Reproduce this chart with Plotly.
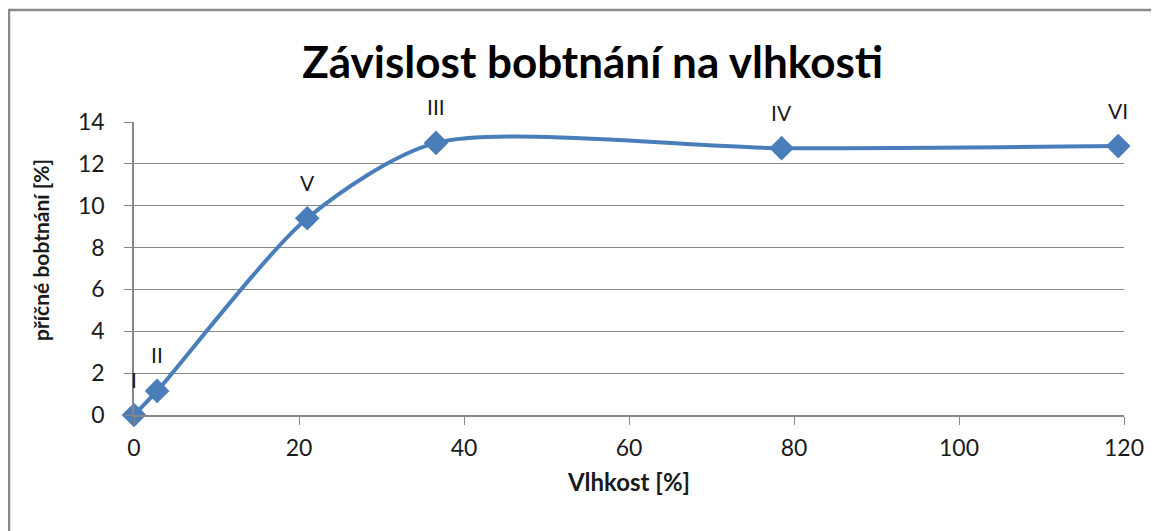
import plotly.graph_objects as go

# swelling vs. moisture
vlhkost = [0, 2.8, 21.0, 36.6, 78.5, 119.3]
bobtnani = [0, 1.15, 9.4, 13.0, 12.75, 12.85]
labels = ["I", "II", "V", "III", "IV", "VI"]

LINE_COLOR = "#4a7ebb"
GRID_COLOR = "#878787"
FONT = "Lato"

fig = go.Figure()
fig.add_trace(go.Scatter(
    x=vlhkost, y=bobtnani,
    mode="lines+markers",
    line=dict(color=LINE_COLOR, width=4, shape="spline", smoothing=0.75),
    marker=dict(symbol="diamond", size=19, color=LINE_COLOR),
    cliponaxis=False,
    showlegend=False,
))

for xv, yv, lab in zip(vlhkost, bobtnani, labels):
    fig.add_annotation(x=xv, y=yv, text=lab, showarrow=False, yshift=36,
                       font=dict(family=FONT, size=21, color="#1a1a1a"))

# y title sits a bit above the plot centre, so place it by hand
fig.add_annotation(xref="paper", yref="paper", x=-0.095, y=0.563,
                   text="<b>příčné bobtnání [%]</b>", textangle=-90,
                   showarrow=False, xanchor="center", yanchor="middle",
                   font=dict(family=FONT, size=21, color="#1a1a1a"))

# outer chart frame
fig.add_shape(type="rect", xref="paper", yref="paper",
              x0=-0.1263, x1=1.05, y0=-0.45, y1=1.382,
              line=dict(color="#8a8a8a", width=2.5), layer="below")

# page body has an 8px margin, so the figure is 8px smaller than the window
fig.update_layout(
    width=1151, height=523,
    margin=dict(l=126, r=35, t=114, b=116),
    paper_bgcolor="white", plot_bgcolor="white",
    font=dict(family=FONT, color="#1a1a1a"),
    title=dict(text="<b>Závislost bobtnání na vlhkosti</b>",
               x=0.508, xanchor="center", y=0.895, yanchor="middle",
               font=dict(family=FONT, size=44, color="black")),
    xaxis=dict(
        range=[0, 120], tickvals=[0, 20, 40, 60, 80, 100, 120],
        showgrid=False, zeroline=False,
        showline=True, linecolor=GRID_COLOR, linewidth=1.5,
        ticks="outside", ticklen=8, tickcolor=GRID_COLOR,
        tickfont=dict(size=23), ticklabelstandoff=4,
        title=dict(text="<b>Vlhkost [%]</b>", font=dict(size=24), standoff=14),
    ),
    yaxis=dict(
        range=[0, 14], tickvals=[0, 2, 4, 6, 8, 10, 12, 14],
        showgrid=True, gridcolor=GRID_COLOR, gridwidth=1.2, zeroline=False,
        showline=True, linecolor=GRID_COLOR, linewidth=1.5,
        ticks="outside", ticklen=8, tickcolor=GRID_COLOR,
        tickfont=dict(size=23), ticklabelstandoff=15,
    ),
)

fig.write_html("out.html")
